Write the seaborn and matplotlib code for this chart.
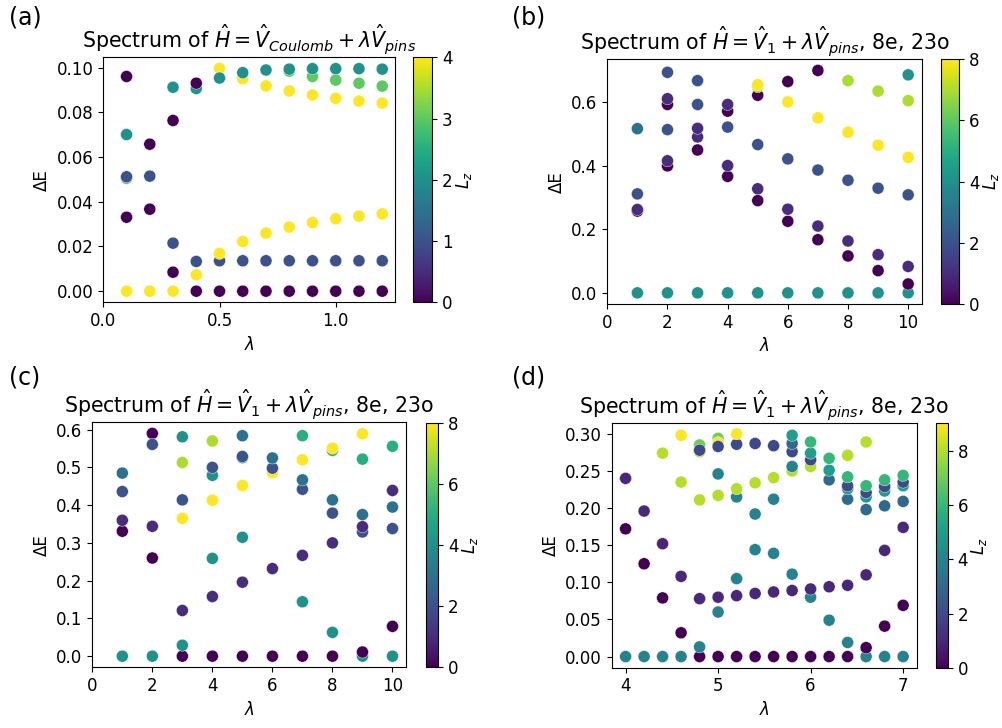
import numpy as np
import pandas as pd
import matplotlib
matplotlib.use("Agg")
import matplotlib.pyplot as plt
import seaborn as sns

# ==============================================================
# Data, one lambda group per line
# ==============================================================
lam_a = [0.1] * 6 + [0.2] * 4 + [0.3] * 5 + [0.4] * 5 + [0.5] * 5 + [0.6] * 5 + [0.7] * 5 \
    + [0.8] * 6 + [0.9] * 6 + [1.0] * 6 + [1.1] * 6 + [1.2] * 6
de_a = [
    0.0, 0.0331, 0.0505, 0.0512, 0.0701, 0.0961,
    0.0, 0.0367, 0.0515, 0.0658,
    0.0, 0.0085, 0.0215, 0.0764, 0.0913,
    0.0, 0.0133, 0.0073, 0.0907, 0.0931,
    0.0, 0.0136, 0.0169, 0.0997, 0.0954,
    0.0, 0.0136, 0.0222, 0.0951, 0.0978,
    0.0, 0.0136, 0.0260, 0.0919, 0.0990,
    0.0, 0.0136, 0.0287, 0.0896, 0.0985, 0.0994,
    0.0, 0.0136, 0.0307, 0.0878, 0.0961, 0.0996,
    0.0, 0.0136, 0.0324, 0.0863, 0.0945, 0.0996,
    0.0, 0.0136, 0.0336, 0.0851, 0.0931, 0.0996,
    0.0, 0.0136, 0.0346, 0.0842, 0.0918, 0.0994,
]
lz_a = [
    4, 0, 3, 1, 2, 0,
    4, 0, 1, 0,
    4, 0, 1, 0, 2,
    0, 1, 4, 2, 0,
    0, 1, 4, 4, 2,
    0, 1, 4, 4, 2,
    0, 1, 4, 4, 2,
    0, 1, 4, 4, 3, 2,
    0, 1, 4, 4, 3, 2,
    0, 1, 4, 4, 3, 2,
    0, 1, 4, 4, 3, 2,
    0, 1, 4, 4, 3, 2,
]

lam_b = [1] * 5 + [2] * 7 + [3] * 6 + [4] * 6 + [5] * 7 + [6] * 6 + [7] * 6 \
    + [8] * 6 + [9] * 6 + [10] * 7
de_b = [
    0.0, 0.257, 0.262, 0.311, 0.516,
    0.0, 0.399, 0.415, 0.513, 0.592, 0.610, 0.693,
    0.0, 0.449, 0.490, 0.517, 0.592, 0.667,
    0.0, 0.366, 0.400, 0.521, 0.571, 0.592,
    0.0, 0.290, 0.327, 0.466, 0.621, 0.648, 0.654,
    0.0, 0.225, 0.263, 0.421, 0.600, 0.664,
    0.0, 0.167, 0.210, 0.386, 0.550, 0.699,
    0.0, 0.116, 0.163, 0.354, 0.505, 0.667,
    0.0, 0.070, 0.120, 0.329, 0.464, 0.634,
    0.0, 0.028, 0.083, 0.308, 0.426, 0.604, 0.685,
]
lz_b = [
    4, 0, 1, 2, 3,
    4, 0, 1, 2, 0, 1, 2,
    4, 0, 1, 1, 2, 2,
    4, 0, 1, 2, 0, 1,
    4, 0, 1, 2, 0, 7, 8,
    4, 0, 1, 2, 8, 0,
    4, 0, 1, 2, 8, 0,
    4, 0, 1, 2, 8, 7,
    4, 0, 1, 2, 8, 7,
    4, 0, 1, 2, 8, 7, 4,
]

lam_c = [1] * 5 + [2] * 5 + [3] * 7 + [4] * 7 + [5] * 7 + [6] * 5 + [7] * 7 \
    + [8] * 7 + [9] * 7 + [10] * 6
de_c = [
    0.0, 0.331, 0.360, 0.436, 0.485,
    0.0, 0.260, 0.344, 0.590, 0.561,
    0.0, 0.029, 0.121, 0.365, 0.414, 0.513, 0.581,
    0.0, 0.158, 0.259, 0.413, 0.479, 0.500, 0.570,
    0.0, 0.196, 0.315, 0.452, 0.526, 0.529, 0.584,
    0.0, 0.232, 0.486, 0.498, 0.525,
    0.0, 0.144, 0.267, 0.442, 0.467, 0.520, 0.584,
    0.0, 0.063, 0.300, 0.379, 0.414, 0.545, 0.551,
    0.0, 0.011, 0.329, 0.343, 0.375, 0.522, 0.589,
    0.0, 0.079, 0.338, 0.395, 0.439, 0.556,
]
lz_c = [
    4, 0, 1, 2, 3,
    4, 0, 1, 0, 2,
    0, 4, 1, 8, 2, 7, 4,
    0, 1, 4, 8, 4, 2, 7,
    0, 1, 4, 8, 4, 2, 3,
    0, 1, 8, 2, 3,
    0, 4, 1, 2, 3, 8, 5,
    0, 4, 1, 2, 3, 5, 8,
    4, 0, 2, 1, 3, 5, 8,
    4, 0, 2, 3, 1, 5,
]

lam_d = [4.0] * 3 + [4.2] * 3 + [4.4] * 4 + [4.6] * 5 + [4.8] * 7 + [5.0] * 8 + [5.2] * 7 \
    + [5.4] * 6 + [5.6] * 6 + [5.8] * 8 + [6.0] * 7 + [6.2] * 6 + [6.4] * 8 + [6.6] * 8 \
    + [6.8] * 7 + [7.0] * 7
de_d = [
    0.0, 0.172, 0.240,
    0.0, 0.125, 0.196,
    0.0, 0.079, 0.152, 0.274,
    0.0, 0.032, 0.108, 0.235, 0.298,
    0.0, 0.013, 0.078, 0.211, 0.276, 0.285, 0.278,
    0.0, 0.060, 0.080, 0.217, 0.246, 0.294, 0.288, 0.283,
    0.0, 0.082, 0.105, 0.215, 0.226, 0.286, 0.300,
    0.0, 0.085, 0.144, 0.192, 0.234, 0.287,
    0.0, 0.087, 0.139, 0.212, 0.241, 0.284,
    0.0, 0.089, 0.111, 0.250, 0.256, 0.276, 0.287, 0.298,
    0.0, 0.080, 0.091, 0.256, 0.265, 0.274, 0.289,
    0.0, 0.049, 0.094, 0.238, 0.251, 0.267,
    0.0, 0.019, 0.096, 0.212, 0.226, 0.230, 0.242, 0.271,
    0.0, 0.012, 0.110, 0.198, 0.215, 0.221, 0.230, 0.289,
    0.0, 0.041, 0.143, 0.203, 0.223, 0.229, 0.238,
    0.0, 0.069, 0.174, 0.209, 0.230, 0.235, 0.244,
]
lz_d = [
    4, 0, 1,
    4, 0, 1,
    4, 0, 1, 8,
    4, 0, 1, 8, 9,
    0, 4, 1, 8, 8, 7, 2,
    0, 4, 1, 8, 4, 7, 9, 2,
    0, 1, 4, 4, 8, 2, 9,
    0, 1, 4, 4, 8, 2,
    0, 1, 4, 4, 8, 2,
    0, 1, 4, 8, 4, 2, 3, 5,
    0, 4, 1, 8, 2, 5, 6,
    0, 4, 1, 3, 5, 6,
    0, 4, 1, 3, 5, 2, 6, 8,
    4, 0, 1, 3, 5, 2, 6, 8,
    4, 0, 1, 3, 5, 2, 6,
    4, 0, 1, 3, 5, 2, 6,
]

TITLE_A = r"Spectrum of $\hat{H} = \hat{V}_{Coulomb} + \lambda\hat{V}_{pins}$"
TITLE_V1 = r"Spectrum of $\hat{H} = \hat{V}_1 + \lambda\hat{V}_{pins}$, 8e, 23o"

# ==============================================================
# Layout (pixel boxes: left, top, right, bottom)
# ==============================================================
W, H = 1002, 728
plt.rcParams["font.size"] = 12

fig = plt.figure(figsize=(W / 100, H / 100), dpi=100)


def box(l, t, r, b):
    return [l / W, 1 - b / H, (r - l) / W, (b - t) / H]


panels = [
    ("(a)", lam_a, de_a, lz_a, 4, [0, 1, 2, 3, 4], TITLE_A, (0, None),
     box(103.3, 57.3, 395, 302.3), box(412.7, 57.3, 432.3, 302.3), (9, 6)),
    ("(b)", lam_b, de_b, lz_b, 8, [0, 2, 4, 6, 8], TITLE_V1, (0, None),
     box(607.3, 59.3, 921.7, 304), box(940.7, 59.3, 959.3, 304), (512, 6)),
    ("(c)", lam_c, de_c, lz_c, 8, [0, 2, 4, 6, 8], TITLE_V1, (0, None),
     box(92.3, 422.3, 406, 667.3), box(426, 423, 438.3, 667.3), (9, 366)),
    ("(d)", lam_d, de_d, lz_d, 9, [0, 2, 4, 6, 8], TITLE_V1, None,
     box(611.7, 422.7, 917, 667.7), box(936, 423.3, 947.7, 668.3), (512, 366)),
]

for label, lam, de, lz, vmax, cticks, title, xlim, ax_box, cb_box, lab_pos in panels:
    ax = fig.add_axes(ax_box)
    cax = fig.add_axes(cb_box)
    df = pd.DataFrame({"lam": lam, "dE": de, "Lz": lz})

    sns.scatterplot(data=df, x="lam", y="dE", hue="Lz", palette="viridis",
                    hue_norm=(0, vmax), s=75, linewidth=0.3, edgecolor="w",
                    legend=False, ax=ax)
    if xlim is not None:
        ax.set_xlim(left=xlim[0])

    ax.set_title(title, fontsize=14.8)
    ax.set_xlabel(r"$\lambda$")
    ax.set_ylabel("ΔE")

    sm = plt.cm.ScalarMappable(cmap="viridis", norm=plt.Normalize(0, vmax))
    cb = fig.colorbar(sm, cax=cax, ticks=cticks)
    cb.set_label(r"$L_z$", labelpad=1)

    fig.text(lab_pos[0] / W, 1 - lab_pos[1] / H, label, fontsize=17,
             ha="left", va="top")

fig.savefig("out.png", dpi=100)
